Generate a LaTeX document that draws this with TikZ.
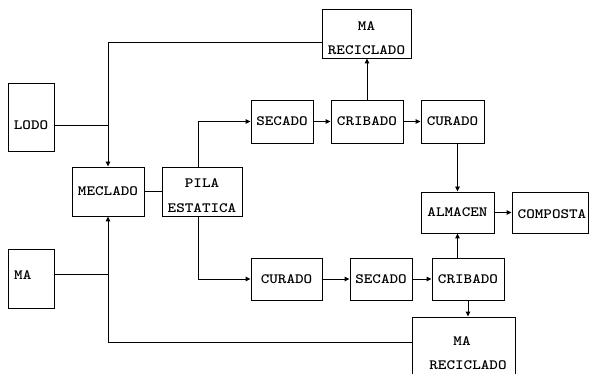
\documentclass[tikz,border=0pt]{standalone}
\usepackage{fontspec}
\newfontfamily\lbfont{lmmonolt10-bold.otf}[FakeStretch=1.15]
\usetikzlibrary{arrows.meta}
\begin{document}
\begin{tikzpicture}[x=1pt,y=-1pt,
  box/.style={draw,line width=0.9pt,rectangle,inner sep=0pt},
  lbl/.style={font=\lbfont\fontsize{14.2}{15}\selectfont,inner sep=0pt},
  ln/.style={line width=0.9pt},
  arr/.style={line width=0.9pt,-{Triangle[length=5pt,width=4.5pt]}}]
\useasboundingbox (0,0) rectangle (589,374);
% boxes
\node[box,minimum width=46,minimum height=68] (lodo) at (31,117) {};
\node[lbl] (lodot) at (31,125.5) {LODO};
\node[box,minimum width=46,minimum height=59] (ma) at (31,278.5) {};
\node[lbl,anchor=west] (mat) at (14,275) {MA};
\node[box,minimum width=72,minimum height=49,lbl] (meclado) at (108,191.5) {MECLADO};
\node[box,minimum width=80,minimum height=49] (pila) at (202,191.5) {};
\node[lbl] (pilat1) at (202,183) {PILA};
\node[lbl] (pilat2) at (202,208) {ESTATICA};
\node[box,minimum width=89,minimum height=49] (marec1) at (366.5,33.5) {};
\node[lbl] (marec1a) at (366.5,26) {MA};
\node[lbl] (marec1b) at (366.5,50) {RECICLADO};
\node[box,lbl,minimum width=62,minimum height=43] (secado1) at (282,121.5) {SECADO};
\node[box,lbl,minimum width=72,minimum height=43] (cribado1) at (367,121.5) {CRIBADO};
\node[box,lbl,minimum width=63,minimum height=43] (curado1) at (452.5,121.5) {CURADO};
\node[box,lbl,minimum width=73,minimum height=41] (almacen) at (457.5,212.5) {ALMACEN};
\node[box,minimum width=76,minimum height=41] (composta) at (550,212.5) {};
\node[lbl] (compostat) at (552,214) {COMPOSTA};
\node[box,lbl,minimum width=71,minimum height=42] (curado2) at (286.5,279) {CURADO};
\node[box,lbl,minimum width=62,minimum height=42] (secado2) at (381,279) {SECADO};
\node[box,lbl,minimum width=72,minimum height=42] (cribado2) at (468,279) {CRIBADO};
\node[box,minimum width=103,minimum height=64] (marec2) at (463.5,349) {};
\node[lbl] (marec2a) at (462,341) {MA};
\node[lbl] (marec2b) at (468,365) {RECICLADO};
% junctions
\coordinate (j1) at (108,125);
\coordinate (j2) at (108,274);
% connectors
\draw[arr] ([yshift=-8.5pt]marec1.west) -| (meclado.north);
\draw[ln] ([yshift=-8pt]lodo.east) -- (j1);
\draw[arr] (marec2.west |- 0,342) -| (meclado.south);
\draw[ln] ([yshift=4.5pt]ma.east) -- (j2);
\draw[ln] (meclado.east) -- (pila.west);
\draw[arr] ([xshift=-4pt]pila.north) |- (secado1.west);
\draw[arr] (secado1) -- (cribado1);
\draw[arr] (cribado1) -- (curado1);
\draw[arr] (cribado1.north) -- (cribado1.north |- marec1.south);
\draw[arr] (curado1.south -| almacen.north) -- (almacen.north);
\draw[arr] (almacen) -- (composta);
\draw[arr] ([xshift=-4pt]pila.south) |- (curado2.west);
\draw[arr] (curado2) -- (secado2);
\draw[arr] (secado2) -- (cribado2);
\draw[arr] (almacen.south |- cribado2.north) -- (almacen.south);
\draw[arr] (cribado2.south) -- (cribado2.south |- marec2.north);
\end{tikzpicture}
\end{document}
